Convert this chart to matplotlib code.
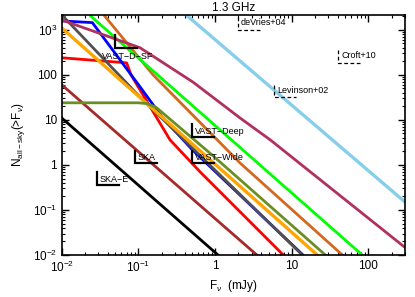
import matplotlib
matplotlib.use('Agg')
import matplotlib.pyplot as plt
from matplotlib.ticker import FixedLocator, FixedFormatter, LogLocator, NullFormatter

plt.rcParams['font.family'] = ['Liberation Sans', 'DejaVu Sans']
plt.rcParams['mathtext.fontset'] = 'custom'
plt.rcParams['mathtext.rm'] = 'Liberation Sans'
plt.rcParams['mathtext.it'] = 'Liberation Sans:italic'

# source count curves: flux (mJy) and N(>F)
black_f = [0.01, 1.09]
black_n = [11, 0.01]
brown_f = [0.01, 3.5]
brown_n = [60, 0.01]
red_f = [0.01, 0.07, 0.08, 0.105, 0.258, 0.637, 7.74]
red_n = [240, 185, 100, 46, 3.6, 0.7, 0.01]
blue_f = [0.01, 0.025, 0.105, 0.2, 0.5, 14.0]
blue_n = [1580, 1450, 54, 12, 2.2, 0.01]
gray_f = [0.01, 0.105, 13.7]
gray_n = [2140, 32, 0.01]
orange_f = [0.01, 21.5]
orange_n = [1100, 0.01]
olive_f = [0.01, 0.1, 0.13, 0.17, 0.91, 27.4]
olive_n = [24, 24, 23, 19, 1.67, 0.01]
choc_f = [0.0365, 0.155, 2.12, 45.7]
choc_n = [2000, 100, 1.1, 0.01]
green_f = [0.024, 83.0]
green_n = [2000, 0.01]
maroon_f = [0.01, 0.105, 0.515, 2.12, 5.24, 303]
maroon_n = [1660, 400, 69, 11, 3.6, 0.0145]
sky_f = [0.44, 300]
sky_n = [2000, 0.15]

# survey limits (flux limit, N limit)
surveys = ['VAST-D-SF', 'VAST-Deep', 'VAST-Wide', 'SKA', 'SKA-E']
survey_f = [0.049, 0.50, 0.50, 0.09, 0.0287]
survey_n = [398, 4.2, 1.1, 1.1, 0.36]
past = ['deVries+04', 'Croft+10', 'Levinson+02']
past_f = [2.0, 40.5, 5.9]
past_n = [1000, 185, 32]

fig = plt.figure(figsize=(4.15, 2.97), dpi=100)
ax = fig.add_axes([0.149, 0.1414, 0.827, 0.8081])

ax.plot(black_f, black_n, color='black', lw=2)
ax.plot(brown_f, brown_n, color='#A52A2A', lw=2)
ax.plot(red_f, red_n, color='red', lw=2)
ax.plot(blue_f, blue_n, color='blue', lw=2)
ax.plot(gray_f, gray_n, color='#505050', lw=2)
ax.plot(orange_f, orange_n, color='orange', lw=2.4)
ax.plot(olive_f, olive_n, color='#6B8E23', lw=2)
ax.plot(choc_f, choc_n, color='#D2691E', lw=2)
ax.plot(green_f, green_n, color='#00FF00', lw=2)
ax.plot(maroon_f, maroon_n, color='#B03060', lw=2)
ax.plot(sky_f, sky_n, color='#87CEEB', lw=2.4)

# L-shaped survey markers
up = 1.9
right = 1.95
for name, f, n in zip(surveys, survey_f, survey_n):
    ax.plot([f, f, f * right], [n * up, n, n], color='black', lw=1.6,
            solid_joinstyle='miter')
    if name == 'VAST-D-SF':
        ax.annotate('VAST\u2212D\u2212SF', (f, n), xytext=(-9, -6),
                    textcoords='offset points', fontsize=6.5, va='center')
    else:
        ax.annotate(name.replace('-', '\u2212'), (f, n), xytext=(2, 4),
                    textcoords='offset points', fontsize=6.5, va='center')
for name, f, n in zip(past, past_f, past_n):
    ax.plot([f, f, f * right], [n * up, n, n], color='black', lw=0.9,
            ls=(0, (3, 2)))
    ax.annotate(name, (f, n), xytext=(2, 5),
                textcoords='offset points', fontsize=6.5, va='center')

ax.set_xscale('log')
ax.set_yscale('log')
ax.set_xlim(0.01, 300)
ax.set_ylim(0.01, 2140)

ax.xaxis.set_major_locator(FixedLocator([0.01, 0.1, 1, 10, 100]))
ax.xaxis.set_major_formatter(FixedFormatter(['$10^{-2}$', '$10^{-1}$', '1', '10', '100']))
ax.yaxis.set_major_locator(FixedLocator([0.01, 0.1, 1, 10, 100, 1000]))
ax.yaxis.set_major_formatter(FixedFormatter(['$10^{-2}$', '$10^{-1}$', '1', '10', '100', '$10^3$']))
ax.xaxis.set_minor_locator(LogLocator(base=10, subs=range(2, 10), numticks=20))
ax.yaxis.set_minor_locator(LogLocator(base=10, subs=range(2, 10), numticks=20))
ax.xaxis.set_minor_formatter(NullFormatter())
ax.yaxis.set_minor_formatter(NullFormatter())
ax.tick_params(which='both', direction='in', top=True, right=True, labelsize=8.5)
ax.tick_params(which='major', length=5, width=1)
ax.tick_params(which='minor', length=2.5, width=0.8)
for s in ax.spines.values():
    s.set_linewidth(1.2)

ax.set_title('1.3 GHz', fontsize=8.5, pad=3)
ax.set_xlabel(r'F$_\nu$  (mJy)', fontsize=8.5, labelpad=2)
ax.set_ylabel(r'N$_{\rm all-sky}$(>F$_\nu$)', fontsize=8.5, labelpad=4)

fig.savefig('out.png', dpi=100)
